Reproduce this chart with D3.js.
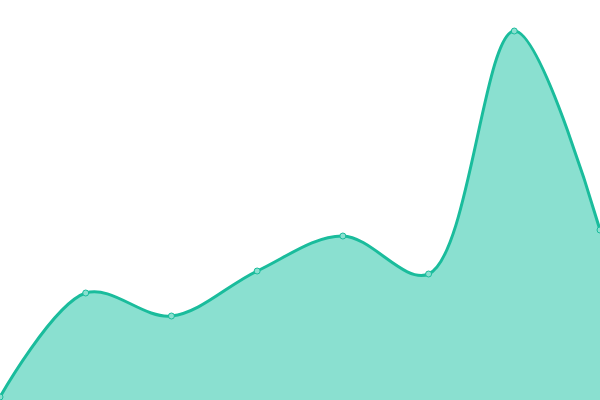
<!DOCTYPE html>
<html><head><meta charset="utf-8">
<script src="https://cdn.jsdelivr.net/npm/d3@7"></script>
<style>html,body{margin:0;padding:0;background:#fff;overflow:hidden}</style>
</head><body>
<svg id="chart" width="600" height="400"></svg>
<script>
const categories = ["1","2","3","4","5","6","7","8"];
const values = [3, 107, 84, 129, 164, 126, 369, 170];

const W = 600, H = 400;
const svg = d3.select("#chart");
const x = d3.scalePoint().domain(categories).range([0, W]);
const y = d3.scaleLinear().domain([0, 400]).range([H, 0]);
const data = categories.map((c, i) => ({c, v: values[i]}));
const curve = d3.curveCatmullRom;

svg.append("path").datum(data)
  .attr("d", d3.area().x(d => x(d.c)).y0(H).y1(d => y(d.v)).curve(curve))
  .attr("fill", "#8ae0d0");
svg.append("path").datum(data)
  .attr("d", d3.line().x(d => x(d.c)).y(d => y(d.v)).curve(curve))
  .attr("fill", "none").attr("stroke", "#1abc9c").attr("stroke-width", 3);
svg.selectAll("circle").data(data).join("circle")
  .attr("cx", d => x(d.c)).attr("cy", d => y(d.v)).attr("r", 3)
  .attr("fill", "#8ae0d0").attr("stroke", "#1abc9c").attr("stroke-width", 1);
</script>
</body></html>
